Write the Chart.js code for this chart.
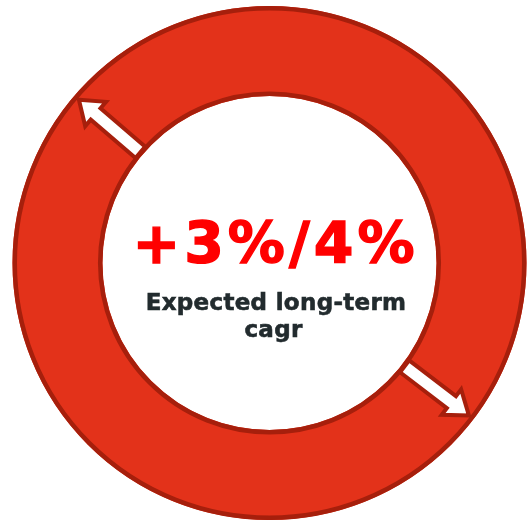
<!DOCTYPE html>
<html>
<head>
<meta charset="utf-8">
<script src="https://cdn.jsdelivr.net/npm/chart.js@4/dist/chart.umd.min.js"></script>
<style>
  html, body { margin: 0; padding: 0; background: #ffffff; }
  #wrap { width: 528px; height: 522px; }
</style>
</head>
<body>
<div id="wrap"><canvas id="cagrChart" width="528" height="522"></canvas></div>
<script>
// Chart data
var labels = ['Expected long-term cagr'];
var values = [100];
var headline = '+3%/4%';
var captionLines = ['Expected long-term', 'cagr'];

// Arrow directions (degrees, canvas orientation)
var arrowAngles = [-139.4, 37.4];

var ringFill = '#e3321a';
var ringEdge = '#a61f0c';

// Outline of the ring, the two outward arrows and the centre text
var ringDecor = {
  id: 'ringDecor',
  afterDatasetsDraw: function(chart) {
    var arc = chart.getDatasetMeta(0).data[0];
    if (!arc) return;
    var ctx = chart.ctx;
    var cx = arc.x, cy = arc.y;
    var rIn = arc.innerRadius, rOut = arc.outerRadius;

    ctx.save();
    ctx.strokeStyle = ringEdge;
    ctx.lineWidth = 4.5;
    ctx.beginPath();
    ctx.arc(cx, cy, rOut - 2.25, 0, Math.PI * 2);
    ctx.stroke();
    ctx.beginPath();
    ctx.arc(cx, cy, rIn + 2.25, 0, Math.PI * 2);
    ctx.stroke();
    ctx.restore();

    arrowAngles.forEach(function(deg) {
      var a = deg * Math.PI / 180;
      var ux = Math.cos(a), uy = Math.sin(a);
      var px = -uy, py = ux;
      var start = rIn + 3, tip = rOut - 6;
      var headLen = 22, shaftW = 7.5, headW = 16;
      var neck = tip - headLen;
      function pt(r, off) { return [cx + ux * r + px * off, cy + uy * r + py * off]; }
      var pts = [pt(start, -shaftW), pt(neck, -shaftW), pt(neck, -headW), pt(tip, 0),
                 pt(neck, headW), pt(neck, shaftW), pt(start, shaftW)];
      ctx.save();
      ctx.beginPath();
      ctx.moveTo(pts[0][0], pts[0][1]);
      for (var i = 1; i < pts.length; i++) ctx.lineTo(pts[i][0], pts[i][1]);
      ctx.closePath();
      ctx.fillStyle = '#ffffff';
      ctx.fill();
      ctx.lineWidth = 4;
      ctx.lineJoin = 'miter';
      ctx.strokeStyle = ringEdge;
      ctx.stroke();
      ctx.restore();
    });

    ctx.save();
    ctx.textAlign = 'center';
    ctx.textBaseline = 'alphabetic';
    ctx.fillStyle = '#ff0000';
    ctx.font = 'bold 57px "DejaVu Sans"';
    ctx.letterSpacing = '4px';
    ctx.strokeStyle = '#ff0000';
    ctx.lineWidth = 1.4;
    ctx.fillText(headline, cx + 6, cy);
    ctx.strokeText(headline, cx + 6, cy);
    ctx.letterSpacing = '0.3px';
    ctx.fillStyle = '#222b2e';
    ctx.strokeStyle = '#222b2e';
    ctx.lineWidth = 0.6;
    ctx.font = 'bold 23px "DejaVu Sans"';
    ctx.fillText(captionLines[0], cx + 6.5, cy + 47);
    ctx.strokeText(captionLines[0], cx + 6.5, cy + 47);
    ctx.fillText(captionLines[1], cx + 4, cy + 74);
    ctx.strokeText(captionLines[1], cx + 4, cy + 74);
    ctx.restore();
  }
};

var chart = new Chart(document.getElementById('cagrChart').getContext('2d'), {
  type: 'doughnut',
  data: {
    labels: labels,
    datasets: [{
      data: values,
      backgroundColor: ringFill,
      borderWidth: 0
    }]
  },
  options: {
    responsive: false,
    animation: false,
    cutout: '65%',
    layout: { padding: { left: 12.5, right: 1.5, top: 6, bottom: 2 } },
    plugins: {
      legend: { display: false },
      tooltip: { enabled: false }
    }
  },
  plugins: [ringDecor]
});
</script>
</body>
</html>
